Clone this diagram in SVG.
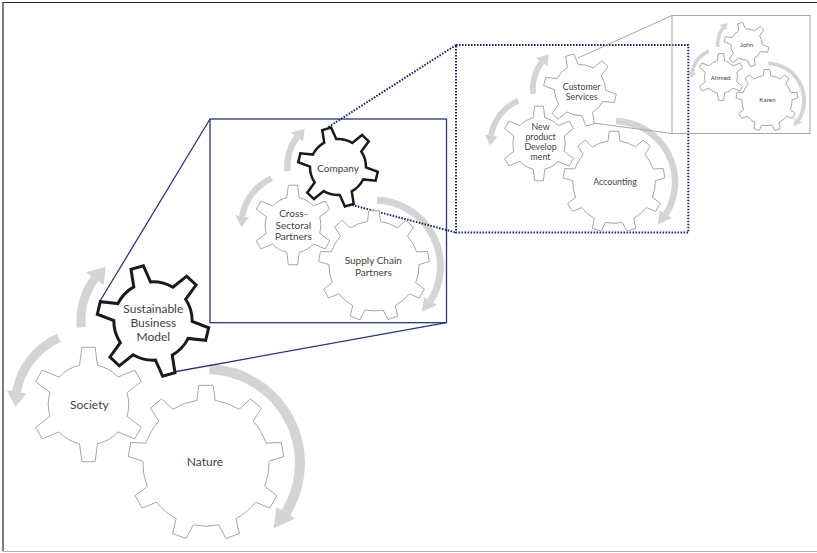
<svg xmlns="http://www.w3.org/2000/svg" width="817" height="553" viewBox="0 0 817 553">
<style>
  .g { fill: #ffffff; stroke: #a6a6a6; stroke-width: 1; stroke-linejoin: miter; }
  .gb { fill: #ffffff; stroke: #1a1a1a; stroke-linejoin: miter; }
  .arc { fill: none; stroke: #d4d4d4; }
  .head { fill: #d4d4d4; stroke: none; }
  .t { font-family: Lato, "Open Sans", "Liberation Sans", sans-serif; fill: #3f3f3f; text-anchor: middle; }
  .l1 { font-size: 12px; }
  .l2 { font-size: 10px; }
  .l3 { font-size: 8.8px; }
  .l4 { font-size: 6.3px; }
  .navy { fill: none; stroke: #283777; stroke-width: 1.3; }
  .dots { fill: none; stroke: #1f2d6e; stroke-width: 2; stroke-dasharray: 1.6 1.4; }
  .grey { fill: none; stroke: #a6a6a6; stroke-width: 1; }
</style>
<defs>
  <path id="gear6" vector-effect="non-scaling-stroke" d="M -15.6,-68.24 L -11.5,-99.5 L 11.5,-99.5 L 15.6,-68.24 A 70 70 0 0 1 51.3,-47.63 L 80.42,-59.71 L 91.92,-39.79 L 66.9,-20.61 A 70 70 0 0 1 66.9,20.61 L 91.92,39.79 L 80.42,59.71 L 51.3,47.63 A 70 70 0 0 1 15.6,68.24 L 11.5,99.5 L -11.5,99.5 L -15.6,68.24 A 70 70 0 0 1 -51.3,47.63 L -80.42,59.71 L -91.92,39.79 L -66.9,20.61 A 70 70 0 0 1 -66.9,-20.61 L -91.92,-39.79 L -80.42,-59.71 L -51.3,-47.63 A 70 70 0 0 1 -15.6,-68.24 Z"/>
  <path id="gear9" vector-effect="non-scaling-stroke" d="M -11.7,-80.15 L -9.2,-99.6 L 9.2,-99.6 L 11.7,-80.15 A 81 81 0 0 1 42.56,-68.92 L 56.98,-82.21 L 71.07,-70.39 L 60.48,-53.88 A 81 81 0 0 1 76.9,-25.44 L 96.49,-26.36 L 99.69,-8.24 L 80.96,-2.4 A 81 81 0 0 1 75.26,29.95 L 90.86,41.83 L 81.66,57.77 L 63.56,50.21 A 81 81 0 0 1 38.4,71.32 L 42.71,90.45 L 25.42,96.74 L 16.42,79.32 A 81 81 0 0 1 -16.42,79.32 L -25.42,96.74 L -42.71,90.45 L -38.4,71.32 A 81 81 0 0 1 -63.56,50.21 L -81.66,57.77 L -90.86,41.83 L -75.26,29.95 A 81 81 0 0 1 -80.96,-2.4 L -99.69,-8.24 L -96.49,-26.36 L -76.9,-25.44 A 81 81 0 0 1 -60.48,-53.88 L -71.07,-70.39 L -56.98,-82.21 L -42.56,-68.92 A 81 81 0 0 1 -11.7,-80.15 Z"/>
  <g id="arrowset">
    <path class="arc" stroke-width="10" d="M 209.3 369.1 A 94 94 0 0 1 285.7 512.8"/>
    <polygon class="head" points="276.4,507 295,518.6 273.6,528.3"/>
    <path class="arc" stroke-width="9" d="M 58.8 337.8 A 73 73 0 0 0 16.6 391.8"/>
    <polygon class="head" points="26.5,393.6 6.8,390.1 15.5,407"/>
    <path class="arc" stroke-width="9" d="M 81.3 327.3 A 72 72 0 0 1 94.75 278.7"/>
    <polygon class="head" points="103.65,285.1 85.85,272.2 105.8,266.7"/>
  </g>
</defs>

<g id="frame">
  <path d="M 817 2.5 H 3 V 551" fill="none" stroke="#262626" stroke-width="1.2"/>
  <path d="M 3 551.5 H 817" fill="none" stroke="#b3b3b3" stroke-width="1"/>
</g>

<g id="arrows">
  <use href="#arrowset"/>
  <use href="#arrowset" transform="translate(230.5 -58) scale(0.7)"/>
  <use href="#arrowset" transform="translate(480.1 -119) scale(0.65)"/>
  <use href="#arrowset" transform="translate(685.6 -82.4) scale(0.395)"/>
</g>

<g id="connectors">
  <rect class="navy" x="210" y="119" width="236.5" height="203.7"/>
  <line class="navy" x1="100" y1="301" x2="210" y2="119"/>
  <line class="navy" x1="173.5" y1="372" x2="446.5" y2="322.7"/>
  <rect class="dots" x="456" y="45" width="232.3" height="187.5"/>
  <line class="dots" x1="328.5" y1="127" x2="456" y2="45"/>
  <line class="dots" x1="352" y1="205" x2="456" y2="232.5"/>
  <rect class="grey" x="672" y="15.5" width="138" height="118"/>
  <line class="grey" x1="578" y1="58" x2="672" y2="15.5"/>
  <line class="grey" x1="593" y1="123" x2="672" y2="133.5"/>
</g>

<g id="nature">
  <use href="#gear9" class="g" transform="translate(206 463) scale(0.78)"/>
  <text class="t l1" x="205" y="466">Nature</text>
</g>
<g id="society">
  <use href="#gear6" class="g" transform="translate(88.5 404.5) scale(0.575)"/>
  <text class="t l1" x="89.3" y="408.5">Society</text>
</g>
<g id="sustainable-business-model">
  <use href="#gear6" class="gb" stroke-width="3" transform="translate(153 321) rotate(-16.5) scale(0.56)"/>
  <text class="t l1" x="153.3" y="312.5">Sustainable</text>
  <text class="t l1" x="153.3" y="326.5">Business</text>
  <text class="t l1" x="153.3" y="340.5">Model</text>
</g>

<g id="supply-chain-partners">
  <use href="#gear9" class="g" transform="translate(374 266) scale(0.555)"/>
  <text class="t l2" x="373.3" y="263.7">Supply Chain</text>
  <text class="t l2" x="373.3" y="276">Partners</text>
</g>
<g id="cross-sectoral-partners">
  <use href="#gear6" class="g" transform="translate(293 225) scale(0.4)"/>
  <text class="t l2" x="293.3" y="217">Cross-</text>
  <text class="t l2" x="293.3" y="228.6">Sectoral</text>
  <text class="t l2" x="293.3" y="240.3">Partners</text>
</g>
<g id="company">
  <use href="#gear6" class="gb" stroke-width="2.5" transform="translate(338 167) rotate(-16.5) scale(0.4)"/>
  <text class="t l2" x="338" y="171.8">Company</text>
</g>

<g id="accounting">
  <use href="#gear9" class="g" transform="translate(614 182) scale(0.51)"/>
  <text class="t l3" x="615" y="185">Accounting</text>
</g>
<g id="new-product-development">
  <use href="#gear6" class="g" transform="translate(539 143.5) scale(0.375)"/>
  <text class="t l3" x="540.5" y="130.2">New</text>
  <text class="t l3" x="540.5" y="140.2">product</text>
  <text class="t l3" x="540.5" y="150.2">Develop</text>
  <text class="t l3" x="540.5" y="160.2">ment</text>
</g>
<g id="customer-services">
  <use href="#gear6" class="g" transform="translate(580 90) rotate(-16.5) scale(0.365)"/>
  <text class="t l3" x="581.7" y="90">Customer</text>
  <text class="t l3" x="581.7" y="100">Services</text>
</g>

<g id="karen">
  <use href="#gear9" class="g" transform="translate(767 100.5) scale(0.31)"/>
  <text class="t l4" x="767.3" y="102.3">Karen</text>
</g>
<g id="ahmed">
  <use href="#gear6" class="g" transform="translate(721 77) scale(0.235)"/>
  <text class="t l4" x="720.7" y="79.6">Ahmed</text>
</g>
<g id="john">
  <use href="#gear6" class="g" transform="translate(746.5 44.5) rotate(-16.5) scale(0.225)"/>
  <text class="t l4" x="746.7" y="47.3">John</text>
</g>
</svg>
